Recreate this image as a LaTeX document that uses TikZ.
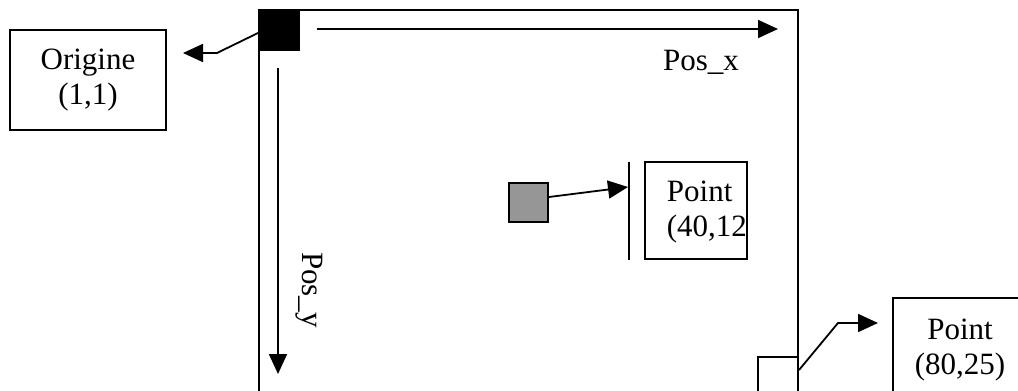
\documentclass[tikz,border=0pt]{standalone}
\usepackage{fontspec}
\setmainfont{Liberation Serif}
\usetikzlibrary{arrows.meta}
\definecolor{midgray}{RGB}{150,150,150}
\begin{document}
\begin{tikzpicture}[x=1pt,y=-1pt,
  line width=1.8pt,
  tip/.style={-{Triangle[length=20pt,width=18pt]}},
  box/.style={draw, line width=2pt, inner sep=0pt},
  txt/.style={font=\fontsize{31}{35}\selectfont, inner sep=0pt},
]
\useasboundingbox (0,0) rectangle (1018,391);
\clip (0,0) rectangle (1018,391);

% screen frame (open at the bottom)
\draw[line width=2pt] (259,410) -- (259,10) -- (798,10) -- (798,410);

% origin marker and axes
\node[box, fill=black, minimum size=40pt] (blk) at (279,30) {};
\coordinate (px0) at (317,29);
\coordinate (px1) at (778,29);
\draw[tip] (px0) -- (px1);
\node[txt, anchor=base] (posx) at (701,70) {Pos\_x};

\coordinate (py0) at (278,68);
\coordinate (py1) at (278,374);
\draw[tip] (py0) -- (py1);
\node[txt, rotate=-90, anchor=base] (posy) at (302,290) {Pos\_y};

% origin label
\node[box, txt, align=center, minimum width=156pt, minimum height=100pt] (orig) at (88,80) {Origine\\(1,1)};
\coordinate (ob) at (217,53);
\coordinate (oa) at (183,53);
\draw[tip] ([yshift=-3pt]blk.west) -- (ob) -- (oa);

% point (40,12)
\node[box, fill=midgray, minimum size=39pt] (gsq) at (528.5,202.5) {};
\coordinate (bt) at (629,162);
\coordinate (bb) at (629,260);
\draw (bt) -- (bb);
\coordinate (ga) at (628,187);
\draw[tip] ([yshift=5.5pt]gsq.east) -- (ga);
\node[box, minimum width=102pt, minimum height=97pt] (p40) at (696,210.5) {};
\node[txt, anchor=west, align=left] (p40t) at (666,212) {Point\\(40,12};

% point (80,25)
\node[box, fill=white, minimum size=40pt] (sq) at (778,377) {};
\coordinate (sb) at (838,323);
\coordinate (sa) at (878,323);
\draw[tip] ([yshift=7pt]sq.east) -- (sb) -- (sa);
\node[box, minimum width=140pt, minimum height=130pt] (p80) at (963,363) {};
\node[txt, align=center] (p80t) at (960,350) {Point\\(80,25)};
\end{tikzpicture}
\end{document}
